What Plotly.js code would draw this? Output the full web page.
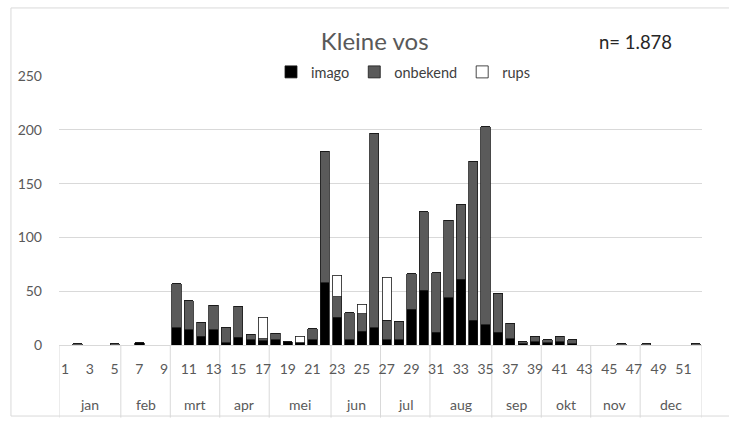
<!DOCTYPE html>
<html>
<head>
<meta charset="utf-8">
<script src="https://cdn.plot.ly/plotly-3.0.1.min.js"></script>
<style>
  html, body { margin: 0; padding: 0; background: #ffffff; }
  #chart { width: 729px; height: 425px; }
</style>
</head>
<body>
<div id="chart"></div>
<script>
// Week numbers 1..52
const weeks = [1,2,3,4,5,6,7,8,9,10,11,12,13,14,15,16,17,18,19,20,21,22,23,24,25,26,
               27,28,29,30,31,32,33,34,35,36,37,38,39,40,41,42,43,44,45,46,47,48,49,50,51,52];

// Series values per week
const imago    = [0,0,0,0,0,0,2,0,0,16,14,8,14,2,7,5,4,5,3,2,5,58,26,5,13,16,
                  5,5,33,51,12,44,61,23,19,12,6,1,3,2,3,1,0,0,0,0,0,0,0,0,0,0];
const onbekend = [0,1,0,0,1,0,0,0,0,41,27,13,23,14,29,5,2,6,0,0,10,122,19,25,16,181,
                  18,17,33,73,55,72,70,148,184,36,14,2,5,3,5,4,0,0,0,1,0,1,0,0,0,1];
const rups     = [0,0,0,0,0,0,0,0,0,0,0,0,0,0,0,0,20,0,0,6,0,0,20,0,9,0,
                  40,0,0,0,0,0,0,0,0,0,0,0,0,0,0,0,0,0,0,0,0,0,0,0,0,0];

// Axis tick labels
const weekTickVals = [1,3,5,7,9,11,13,15,17,19,21,23,25,27,29,31,33,35,37,39,41,43,45,47,49,51];
const weekTickText = ['1','3','5','7','9','11','13','15','17','19','21','23','25','27','29','31','33','35','37','39','41','43','45','47','49','51'];

// Month groups
const monthNames = ['jan','feb','mrt','apr','mei','jun','jul','aug','sep','okt','nov','dec'];
const monthStart = [1,6,10,14,18,23,27,31,36,40,44,48];
const monthEnd   = [5,9,13,17,22,26,30,35,39,43,47,52];

const chartTitle = 'Kleine vos';
const nLabel = 'n= 1.878';

const FONT = 'Lato, "Open Sans", "Liberation Sans", sans-serif';
const grey = '#595959';
const outline = '#1a1a1a';

const traces = [
  {name: 'imago', x: weeks, y: imago, type: 'bar',
   marker: {color: '#000000', line: {color: outline, width: 0.8}}},
  {name: 'onbekend', x: weeks, y: onbekend, type: 'bar',
   marker: {color: '#5a5a5a', line: {color: outline, width: 0.8}}},
  {name: 'rups', x: weeks, y: rups, type: 'bar',
   marker: {color: '#ffffff', line: {color: outline, width: 0.8}}}
];

const shapes = [];
// divider lines under the category axis
const bounds = [monthStart[0] - 0.5].concat(monthEnd.map(e => e + 0.5));
bounds.forEach(b => {
  shapes.push({type: 'line', xref: 'x', yref: 'paper', x0: b, x1: b, y0: 0, y1: -0.27,
               line: {color: '#d9d9d9', width: 1}, layer: 'below'});
});
// outer chart frame
shapes.push({type: 'rect', xref: 'paper', yref: 'paper', x0: -0.0747, x1: 1.1, y0: -0.264, y1: 1.253,
             line: {color: '#d9d9d9', width: 1}, layer: 'below'});

const annotations = monthNames.map((m, i) => ({
  text: m, xref: 'x', yref: 'paper', x: (monthStart[i] + monthEnd[i]) / 2, y: -0.223,
  showarrow: false, yanchor: 'middle', font: {family: FONT, size: 14, color: grey}
}));
annotations.push({
  text: nLabel, xref: 'paper', yref: 'paper', x: 0.896, y: 1.126,
  showarrow: false, xanchor: 'center', yanchor: 'middle',
  font: {family: FONT, size: 18.5, color: '#262626'}
});

const layout = {
  width: 729, height: 425,
  margin: {l: 59, r: 27, t: 76, b: 80, pad: 0},
  paper_bgcolor: '#ffffff', plot_bgcolor: '#ffffff',
  barmode: 'stack', bargap: 0.25,
  font: {family: FONT, color: grey},
  title: {text: chartTitle, x: 0.514, xref: 'container', xanchor: 'center',
          y: 0.901, yref: 'container', yanchor: 'middle',
          font: {family: FONT, size: 24, color: grey}},
  showlegend: true,
  legend: {orientation: 'h', x: 0.535, xanchor: 'center', y: 1.015, yanchor: 'middle',
           font: {family: FONT, size: 14.5, color: '#404040'}, traceorder: 'normal',
           itemwidth: 30, bgcolor: 'rgba(0,0,0,0)'},
  xaxis: {type: 'linear', range: [0.5, 52.5], tickmode: 'array',
          tickvals: weekTickVals, ticktext: weekTickText,
          showgrid: false, zeroline: false, showline: true, linecolor: '#d9d9d9', linewidth: 1,
          ticks: '', ticklabelstandoff: 11,
          tickfont: {family: FONT, size: 14, color: grey}, fixedrange: true},
  yaxis: {range: [0, 250], tickvals: [0, 50, 100, 150, 200, 250],
          showgrid: true, gridcolor: '#d9d9d9', gridwidth: 1, zeroline: false,
          showline: false, ticks: '', ticklabelstandoff: 16,
          tickfont: {family: FONT, size: 14, color: grey}, fixedrange: true},
  shapes: shapes,
  annotations: annotations
};

Plotly.newPlot('chart', traces, layout, {displayModeBar: false, staticPlot: true});
</script>
</body>
</html>
